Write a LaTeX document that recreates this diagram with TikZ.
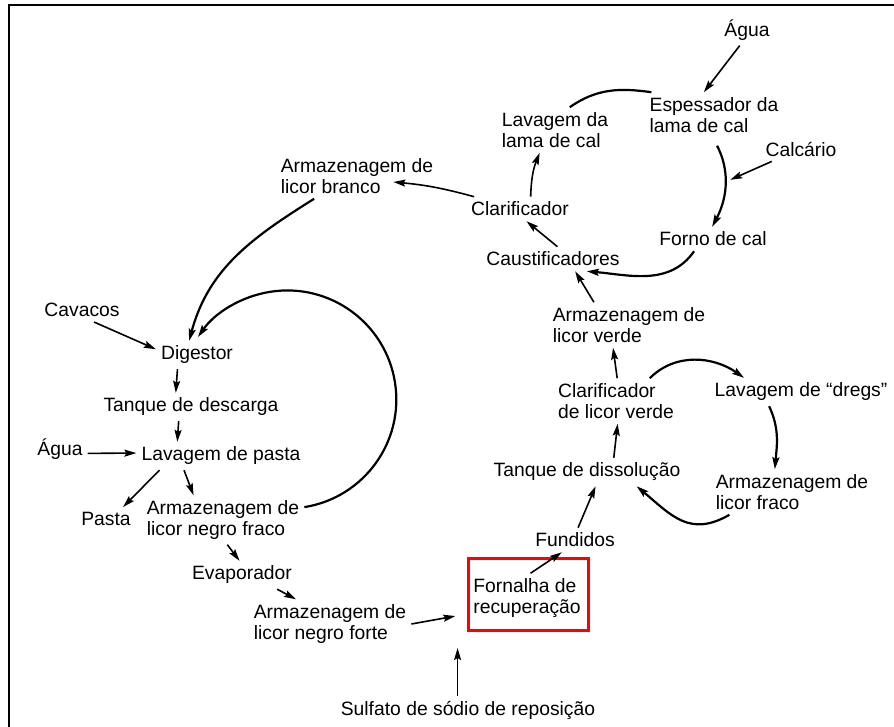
\documentclass[tikz,border=0pt]{standalone}
\usepackage{fontspec}
\setmainfont{Liberation Sans}
\usetikzlibrary{arrows.meta}

\begin{document}
\begin{tikzpicture}[x=1pt,y=-1pt,
    lbl/.style={inner sep=5pt, align=left, font=\fontsize{19.3}{21}\selectfont},
    flowarr/.style={-{Stealth[length=12pt,width=7pt,inset=2pt]}, line width=1.6pt},
    bowline/.style={line width=2.2pt},
    bowarr/.style={flowarr, bowline},
    hilite/.style={draw=red, line width=3pt, minimum width=120pt, minimum height=72pt}]
    \useasboundingbox (0,0) rectangle (894,727);

    % Frame
    \draw[line width=1.5pt] (9,727) -- (9,5) -- (894,5);

    % Lime cycle
    \node[lbl] (aguatop) at (747,30) {Água};
    \node[lbl] (espessador) at (714,115) {Espessador da\\lama de cal};
    \node[lbl] (lavlama) at (555,130) {Lavagem da\\lama de cal};
    \node[lbl] (calcario) at (801,149) {Calcário};
    \node[lbl] (forno) at (713,239) {Forno de cal};
    \node[lbl] (clarif) at (520,209) {Clarificador};
    \node[lbl] (caust) at (553,259) {Caustificadores};
    \node[lbl] (branco) at (357,176) {Armazenagem de\\licor branco};

    % Pulp line
    \node[lbl] (cavacos) at (82,310) {Cavacos};
    \node[lbl] (digestor) at (197,355) {Digestor};
    \node[lbl] (descarga) at (191,407) {Tanque de descarga};
    \node[lbl] (agualeft) at (60,449) {Água};
    \node[lbl] (lavpasta) at (221,456) {Lavagem de pasta};
    \node[lbl] (pasta) at (106,519) {Pasta};
    \node[lbl] (negrofraco) at (223,520) {Armazenagem de\\licor negro fraco};
    \node[lbl] (evap) at (242,575) {Evaporador};
    \node[lbl] (negroforte) at (330,624) {Armazenagem de\\licor negro forte};

    % Recovery
    \node[lbl] (sulfato) at (468,710) {Sulfato de sódio de reposição};
    \node[lbl] (fornalha) at (527,598) {Fornalha de\\recuperação};
    \node[hilite] (mark) at (528.5,594.5) {};
    \node[lbl] (fundidos) at (575,540) {Fundidos};
    \node[lbl] (dissol) at (587,472) {Tanque de dissolução};
    \node[lbl] (clarverde) at (616,401) {Clarificador\\de licor verde};
    \node[lbl] (licorverde) at (629,325) {Armazenagem de\\licor verde};
    \node[lbl] (dregs) at (801,392) {Lavagem de “dregs”};
    \node[lbl] (licorfraco) at (792,492) {Armazenagem de\\licor fraco};

    % Lime cycle arrows
    \draw[flowarr] (aguatop.245) -- (espessador.114);
    \draw[bowline] (espessador.160) to[out=172,in=35] (lavlama.57);
    \draw[flowarr] (clarif.49) to[bend left=10] (lavlama.236);
    \draw[flowarr] (caust.70) -- (clarif.-62);
    \draw[bowarr, shorten <=9pt] (espessador.-93) to[out=-62,in=62] coordinate[pos=.5] (kiln) (forno.94);
    \draw[flowarr, shorten >=6pt] (calcario.203) -- (kiln);
    \draw[bowarr] (forno.213) to[out=-125,in=-5] (caust.-20);
    \draw[flowarr] (clarif.165) to[bend right=5] ([shift={(-45,6)}]branco.east);

    % Pulp line arrows
    \draw[bowarr] (branco.208) to[out=212,in=75] (digestor.119);
    \draw[flowarr] (cavacos.-45) -- (digestor.172);
    \draw[flowarr] (digestor.-144) -- (descarga.137);
    \draw[flowarr] (descarga.-131) -- (lavpasta.162);
    \draw[flowarr] (agualeft.-9) -- (lavpasta.178);
    \draw[flowarr] (lavpasta.193) -- (pasta.35);
    \draw[flowarr] (lavpasta.-159) -- (negrofraco.140);
    \draw[bowarr] (negrofraco.9) arc[start angle=81, end angle=-145, radius=109];
    \draw[flowarr] (negrofraco.-80) -- (evap.100);
    \draw[flowarr] (evap.-22) -- (negroforte.144);

    % Recovery arrows
    \draw[flowarr, shorten >=13pt] (negroforte.east) -- (fornalha.195);
    \draw[flowarr, shorten >=16pt] (sulfato.126) -- (sulfato.126 |- mark.south);
    \draw[flowarr] (fornalha.82) -- (fundidos.-137);
    \draw[flowarr] (fundidos.76) -- (dissol.-59);
    \draw[flowarr] (dissol.28) -- (clarverde.-86);
    \draw[flowarr] (clarverde.87) -- (licorverde.-125);
    \draw[flowarr] (licorverde.147) -- (caust.-29);
    \draw[bowarr] (clarverde.34) to[out=45,in=145] (dregs.166);
    \draw[bowarr] (dregs.-156) to[out=-65,in=85] (licorfraco.127);
    \draw[bowarr] (licorfraco.200) to[out=-150,in=-40,looseness=1.2] (dissol.-16);
\end{tikzpicture}
\end{document}
